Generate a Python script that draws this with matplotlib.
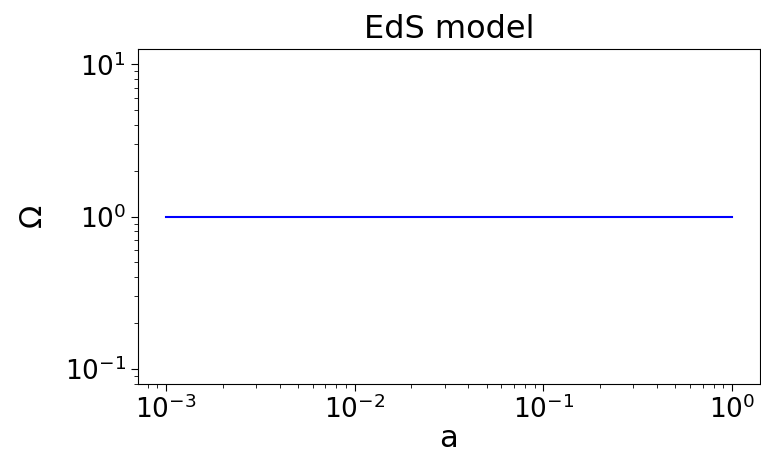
import numpy as np
import matplotlib
matplotlib.use("Agg")
import matplotlib.pyplot as plt

# scale factor and density parameter of the Einstein-de Sitter model
a = [1e-3, 1.0]
omega = [1.0, 1.0]

fig = plt.figure(figsize=(7.61, 4.54), dpi=100)
ax = fig.add_axes([0.181, 0.154, 0.818, 0.738])

ax.plot(a, omega, color='blue', linewidth=1.5)
ax.set_xscale('log')
ax.set_yscale('log')

ax.set_xlabel('a', fontsize=22, labelpad=0)
ax.set_ylabel(r'$\Omega$', fontsize=22, labelpad=12)
ax.set_title('EdS model', fontsize=23, pad=8)

ax.tick_params(axis='both', which='major', labelsize=19, length=5)
ax.tick_params(axis='both', which='minor', length=3)

fig.savefig('out.png', dpi=100)
